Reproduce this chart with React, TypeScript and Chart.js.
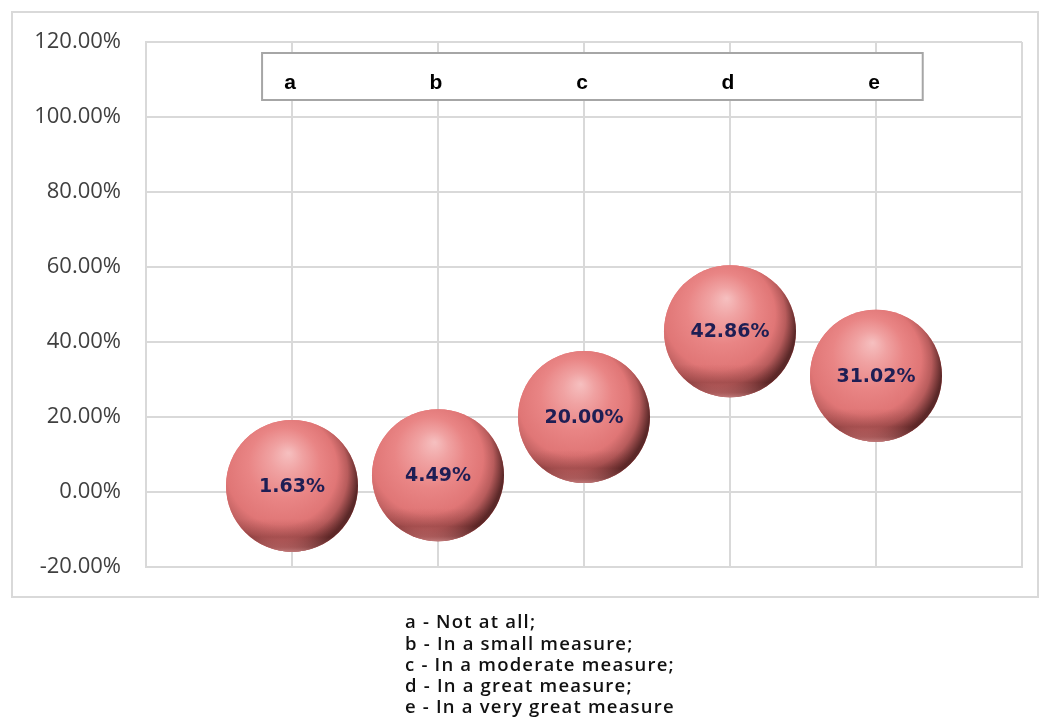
import React, { useEffect, useRef } from 'react';
import { Chart, registerables } from 'chart.js';

Chart.register(...registerables);

const categories = ['a', 'b', 'c', 'd', 'e'];
const categoryPositions = [1, 2, 3, 4, 5];
const percentValues = [1.63, 4.49, 20.0, 42.86, 31.02];
const bubbleSizes = [1, 1, 1, 1, 1];
const yMin = -20;
const yMax = 120;
const yStep = 20;
const xMin = 0;
const xMax = 6;
const legendLines = [
  'a - Not at all;',
  'b - In a small measure;',
  'c - In a moderate measure;',
  'd - In a great measure;',
  'e - In a very great measure',
];

const BUBBLE_PX = 66;
const GRID = '#d9d9d9';

const decorPlugin = {
  id: 'decor',
  beforeDraw(chart: any) {
    const c = chart.ctx;
    c.save();
    c.fillStyle = '#ffffff';
    c.fillRect(0, 0, chart.width, chart.height);
    c.strokeStyle = '#d9d9d9';
    c.lineWidth = 2;
    c.strokeRect(12, 12, 1026, 585);
    c.restore();
  },
  afterDatasetsDraw(chart: any) {
    const c = chart.ctx;
    const meta = chart.getDatasetMeta(0);
    c.save();
    meta.data.forEach((el: any, i: number) => {
      const r = el.options.radius;
      const px = el.x;
      const py = el.y;
      if (!isFinite(px) || !isFinite(py) || !isFinite(r)) return;
      c.save();
      c.beginPath();
      c.arc(px, py, r, 0, Math.PI * 2);
      c.closePath();
      const g = c.createRadialGradient(px - r * 0.05, py - r * 0.5, 0, px - r * 0.2, py - r * 0.15, r * 1.2);
      g.addColorStop(0, '#f6c0c0');
      g.addColorStop(0.2, '#f0a2a2');
      g.addColorStop(0.45, '#e98585');
      g.addColorStop(0.7, '#e07676');
      g.addColorStop(0.85, '#b85c5c');
      g.addColorStop(1, '#5a2828');
      c.fillStyle = g;
      c.fill();
      c.clip();
      const lg = c.createLinearGradient(0, py + r * 0.5, 0, py + r);
      lg.addColorStop(0, 'rgba(120,40,40,0)');
      lg.addColorStop(0.55, 'rgba(100,35,35,0.28)');
      lg.addColorStop(0.85, 'rgba(240,140,140,0.3)');
      lg.addColorStop(1, 'rgba(250,170,170,0.6)');
      c.fillStyle = lg;
      c.fillRect(px - r, py + r * 0.5, 2 * r, r * 0.55);
      c.restore();
      c.font = 'bold 19px "DejaVu Sans"';
      c.fillStyle = '#1e1e54';
      c.textAlign = 'center';
      c.textBaseline = 'middle';
      c.fillText(percentValues[i].toFixed(2) + '%', px, py + 1);
    });
    c.restore();
  },
  afterDraw(chart: any) {
    const c = chart.ctx;
    const xs = chart.scales.x;
    const area = chart.chartArea;
    c.save();
    const left = xs.getPixelForValue(0.795);
    const right = xs.getPixelForValue(5.32);
    const top = area.top + 11;
    const bottom = area.top + 58;
    c.fillStyle = '#ffffff';
    c.fillRect(left, top, right - left, bottom - top);
    c.strokeStyle = '#a6a6a6';
    c.lineWidth = 2;
    c.strokeRect(left, top, right - left, bottom - top);
    c.font = 'bold 21px "Liberation Sans"';
    c.fillStyle = '#000000';
    c.textAlign = 'center';
    c.textBaseline = 'middle';
    categories.forEach((lab, i) => {
      c.fillText(lab, xs.getPixelForValue(categoryPositions[i]) - 2, area.top + 41);
    });
    c.font = '600 18.5px "Open Sans"';
    (c as any).letterSpacing = '1.2px';
    c.fillStyle = '#111111';
    c.textAlign = 'left';
    legendLines.forEach((line, i) => {
      c.fillText(line, 405, 623 + i * 21.3);
    });
    (c as any).letterSpacing = '0px';
    c.restore();
  },
};

export default function App() {
  const ref = useRef<HTMLCanvasElement>(null);
  useEffect(() => {
    if (!ref.current) return;
    const chart = new Chart(ref.current, {
      type: 'bubble',
      data: {
        datasets: [
          {
            data: categoryPositions.map((x, i) => ({ x, y: percentValues[i], r: bubbleSizes[i] * BUBBLE_PX })),
            borderWidth: 0,
            borderColor: 'rgba(0,0,0,0)',
            backgroundColor: '#e87a7a',
          },
        ],
      },
      options: {
        animation: false,
        responsive: false,
        devicePixelRatio: 1,
        layout: { autoPadding: false, padding: { left: 12, top: 42, right: 17, bottom: 151 } },
        plugins: { legend: { display: false }, tooltip: { enabled: false } },
        scales: {
          x: {
            type: 'linear',
            min: xMin,
            max: xMax,
            ticks: { display: false, stepSize: 1 },
            grid: { color: GRID, lineWidth: 2, drawTicks: false },
            border: { display: true, color: GRID, width: 2 },
            afterFit: (s: any) => { s.height = 0; },
          },
          y: {
            min: yMin,
            max: yMax,
            ticks: {
              stepSize: yStep,
              padding: 25,
              color: '#404040',
              font: { family: 'Open Sans', size: 22 },
              callback: (v: any) => Number(v).toFixed(2) + '%',
            },
            grid: { color: GRID, lineWidth: 2, drawTicks: false },
            border: { display: true, color: GRID, width: 2 },
            afterFit: (s: any) => { s.width = 134; },
          },
        },
      },
      plugins: [decorPlugin],
    } as any);
    return () => chart.destroy();
  }, []);
  return (
    <div style={{ position: 'absolute', left: 0, top: 0, width: 1039, height: 718 }}>
      <canvas ref={ref} width={1039} height={718} style={{ width: 1039, height: 718 }} />
    </div>
  );
}
